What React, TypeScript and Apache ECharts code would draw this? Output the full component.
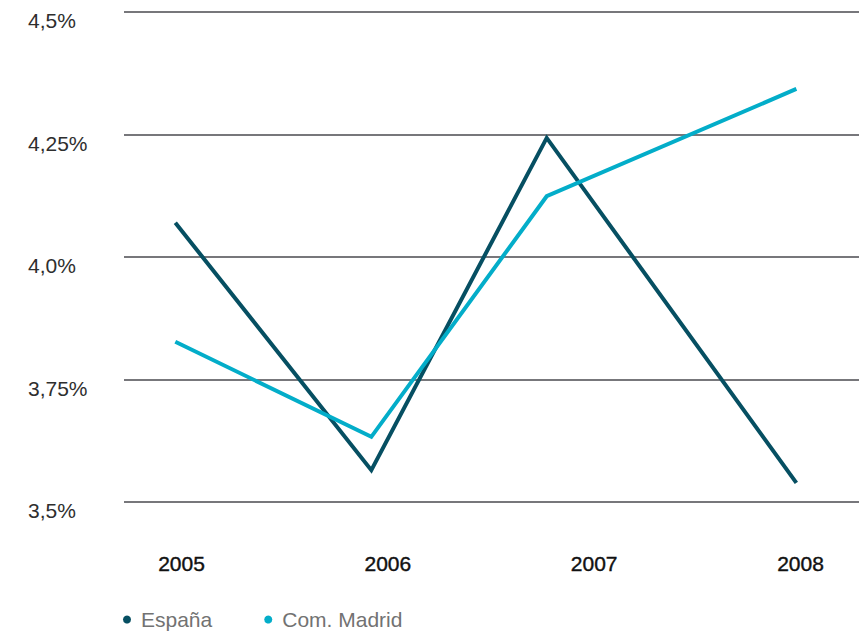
import React, { useEffect, useRef } from "react";
import * as echarts from "echarts";

// Category labels shown under the chart
const years = ["2005", "2006", "2007", "2008"];
// Horizontal positions (in year units) at which the source plots each year's point
const plotX = [2004.97, 2005.92, 2006.77, 2007.98];
// Series values (%)
const espana = [4.07, 3.565, 4.243, 3.539];
const madrid = [3.827, 3.633, 4.124, 4.343];
// Y tick labels as printed in the source
const yTickValues = [3.5, 3.75, 4.0, 4.25, 4.5];
const yTickLabels = ["3,5%", "3,75%", "4,0%", "4,25%", "4,5%"];

const seriesNames = ["España", "Com. Madrid"];
const colors = ["#064f62", "#03adc9"];

export default function App() {
  const ref = useRef<HTMLDivElement>(null);
  useEffect(() => {
    if (!ref.current) return;
    const chart = echarts.init(ref.current, undefined, { renderer: "svg" });
    const pxPerYear = (800.5 - 181.5) / 3;
    const xMin = 2005 - (181.5 - 124) / pxPerYear;
    const xMax = 2008 + (859 - 800.5) / pxPerYear;
    chart.setOption({
      animation: false,
      backgroundColor: "#ffffff",
      color: colors,
      grid: [
        { left: 124, right: 5, top: 12, bottom: 131, containLabel: false },
        { left: 181.5, right: 63.5, top: 12, bottom: 131, containLabel: false },
      ],
      xAxis: [
        {
          type: "value",
          gridIndex: 0,
          min: xMin,
          max: xMax,
          show: false,
        },
        {
          type: "category",
          gridIndex: 1,
          data: years,
          boundaryGap: false,
          axisLine: { show: false },
          axisTick: { show: false },
          splitLine: { show: false },
          axisLabel: {
            margin: 51,
            fontSize: 21,
            fontFamily: "Liberation Sans",
            fontWeight: "normal",
            color: "#111111",
            textBorderColor: "#111111",
            textBorderWidth: 0.4,
          },
        },
      ],
      yAxis: [
        {
          type: "value",
          gridIndex: 0,
          min: 3.5,
          max: 4.5,
          interval: 0.25,
          axisLine: { show: false },
          axisTick: { show: false },
          splitLine: { show: true, lineStyle: { color: "#77777b", width: 2 } },
          axisLabel: {
            align: "left",
            margin: 96,
            verticalAlign: "top",
            lineHeight: 17,
            fontSize: 21,
            fontFamily: "Liberation Sans",
            color: "#2e2e2e",
            formatter: (v: number) => {
              const i = yTickValues.findIndex((t) => Math.abs(t - v) < 1e-6);
              return i >= 0 ? yTickLabels[i] : "";
            },
          },
        },
        { type: "value", gridIndex: 1, min: 3.5, max: 4.5, show: false },
      ],
      legend: {
        data: seriesNames,
        left: 118,
        top: 604,
        icon: "circle",
        itemWidth: 18,
        itemHeight: 8,
        itemGap: 52,
        textStyle: {
          fontSize: 21,
          fontFamily: "Liberation Sans",
          color: "#727272",
        },
      },
      series: [
        {
          name: seriesNames[0],
          type: "line",
          xAxisIndex: 0,
          yAxisIndex: 0,
          data: plotX.map((x, i) => [x, espana[i]]),
          symbol: "none",
          lineStyle: { width: 4, color: colors[0], cap: "butt", join: "miter" },
          itemStyle: { color: colors[0] },
        },
        {
          name: seriesNames[1],
          type: "line",
          xAxisIndex: 0,
          yAxisIndex: 0,
          data: plotX.map((x, i) => [x, madrid[i]]),
          symbol: "none",
          lineStyle: { width: 4, color: colors[1], cap: "butt", join: "miter" },
          itemStyle: { color: colors[1] },
        },
      ],
    });
    return () => chart.dispose();
  }, []);
  return (
    <div
      ref={ref}
      style={{ position: "absolute", left: 0, top: 0, width: 864, height: 633 }}
    />
  );
}
